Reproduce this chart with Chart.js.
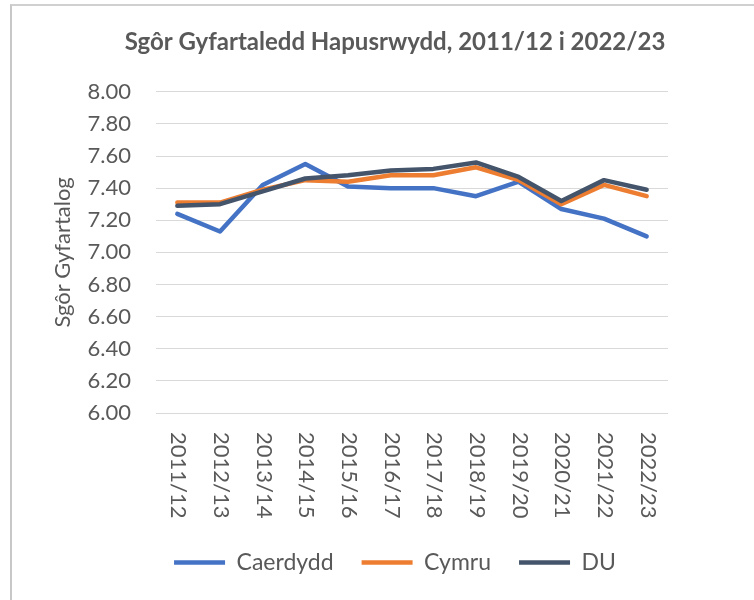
<!DOCTYPE html>
<html>
<head>
<meta charset="utf-8">
<script src="https://cdn.jsdelivr.net/npm/chart.js@4/dist/chart.umd.min.js"></script>
<style>
  html, body { margin: 0; padding: 0; background: #fff; }
  #wrap { position: relative; width: 754px; height: 600px; }
  #frame { position: absolute; left: 10px; top: 4px; right: 0; bottom: 0; border-top: 2px solid #d0d0d0; border-left: 2px solid #c8c8c8; pointer-events: none; }
  canvas { position: absolute; left: 0; top: 0; }
</style>
</head>
<body>
<div id="wrap">
  <canvas id="c" width="754" height="600"></canvas>
  <div id="frame"></div>
</div>
<script>
const categories = ['2011/12','2012/13','2013/14','2014/15','2015/16','2016/17','2017/18','2018/19','2019/20','2020/21','2021/22','2022/23'];
const caerdydd = [7.24, 7.13, 7.42, 7.55, 7.41, 7.40, 7.40, 7.35, 7.44, 7.27, 7.21, 7.10];
const cymru    = [7.31, 7.31, 7.39, 7.45, 7.44, 7.48, 7.48, 7.53, 7.45, 7.30, 7.42, 7.35];
const du       = [7.29, 7.30, 7.38, 7.46, 7.48, 7.51, 7.52, 7.56, 7.47, 7.32, 7.45, 7.39];
const seriesNames = ['Caerdydd', 'Cymru', 'DU'];
const titleText = 'Sgôr Gyfartaledd Hapusrwydd, 2011/12 i 2022/23';
const yTitle = 'Sgôr Gyfartalog';

const FONT = 'Lato';
const TXT = '#595959';

const rotatedXLabels = {
  id: 'rotatedXLabels',
  afterDraw(chart) {
    const xs = chart.scales.x;
    const ctx = chart.ctx;
    ctx.save();
    ctx.font = '22px ' + FONT;
    ctx.fillStyle = TXT;
    ctx.textAlign = 'left';
    ctx.textBaseline = 'middle';
    categories.forEach((lab, i) => {
      const px = xs.getPixelForTick(i);
      ctx.save();
      ctx.translate(px + 1, xs.top + 19);
      ctx.rotate(Math.PI / 2);
      ctx.fillText(lab, 0, 0);
      ctx.restore();
    });
    ctx.restore();
  }
};

function ds(label, data, color, order) {
  return {
    label, data,
    borderColor: color, backgroundColor: color,
    borderWidth: 4.5, pointRadius: 0, pointHoverRadius: 0,
    tension: 0, borderJoinStyle: 'round', borderCapStyle: 'round',
    pointStyle: 'line', order
  };
}

new Chart(document.getElementById('c'), {
  type: 'line',
  data: {
    labels: categories,
    datasets: [
      ds(seriesNames[0], caerdydd, '#4472C4', 2),
      ds(seriesNames[1], cymru, '#ED7D31', 1),
      ds(seriesNames[2], du, '#44546A', 0)
    ]
  },
  options: {
    responsive: false,
    animation: false,
    layout: { padding: { left: 36, right: 0, top: 0, bottom: 16 } },
    plugins: {
      title: {
        display: true, text: titleText, color: TXT,
        font: { family: FONT, size: 24, weight: 'bold' },
        padding: { top: 28, bottom: 35 }
      },
      legend: {
        position: 'bottom',
        labels: {
          usePointStyle: true, pointStyleWidth: 51,
          color: TXT, font: { family: FONT, size: 23 },
          padding: 28,
          sort: (a, b) => a.datasetIndex - b.datasetIndex
        }
      },
      tooltip: { enabled: false }
    },
    scales: {
      x: {
        offset: true,
        grid: { display: false },
        border: { display: false },
        ticks: { display: false },
        afterFit(s) { s.height = 110; }
      },
      y: {
        min: 6, max: 8,
        ticks: {
          stepSize: 0.2, color: TXT, padding: 25,
          font: { family: FONT, size: 22 },
          callback: v => Number(v).toFixed(2)
        },
        grid: { color: '#d9d9d9', lineWidth: 1, drawTicks: false },
        border: { display: false },
        title: {
          display: true, text: yTitle, color: TXT,
          font: { family: FONT, size: 22 },
          padding: { top: 14, bottom: 0 }
        },
        afterFit(s) { s.width = 120; }
      },
      yRightSpace: {
        position: 'right',
        min: 6, max: 8,
        grid: { display: false, drawTicks: false },
        border: { display: false },
        ticks: { display: false },
        afterFit(s) { s.width = 86; }
      }
    }
  },
  plugins: [rotatedXLabels]
});
</script>
</body>
</html>
